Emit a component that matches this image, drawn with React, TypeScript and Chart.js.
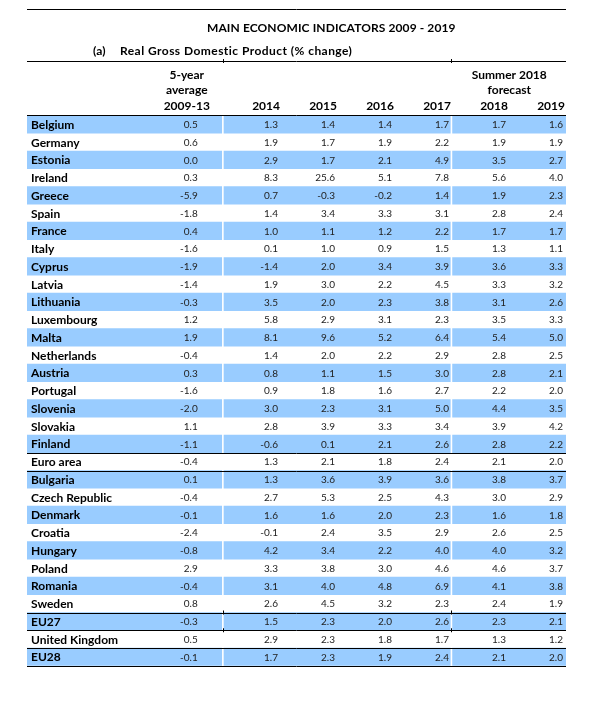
import React, { useEffect, useRef } from "react";
import { Chart, registerables } from "chart.js";

Chart.register(...registerables);

const TITLE = "MAIN ECONOMIC INDICATORS 2009 - 2019";
const SUBTITLE_TAG = "(a)";
const SUBTITLE = "Real Gross Domestic Product (% change)";

const countries = [
  "Belgium", "Germany", "Estonia", "Ireland", "Greece", "Spain", "France", "Italy",
  "Cyprus", "Latvia", "Lithuania", "Luxembourg", "Malta", "Netherlands", "Austria",
  "Portugal", "Slovenia", "Slovakia", "Finland", "Euro area", "Bulgaria",
  "Czech Republic", "Denmark", "Croatia", "Hungary", "Poland", "Romania", "Sweden",
  "EU27", "United Kingdom", "EU28",
];

const avg0913 = [0.5, 0.6, 0.0, 0.3, -5.9, -1.8, 0.4, -1.6, -1.9, -1.4, -0.3, 1.2, 1.9, -0.4, 0.3, -1.6, -2.0, 1.1, -1.1, -0.4, 0.1, -0.4, -0.1, -2.4, -0.8, 2.9, -0.4, 0.8, -0.3, 0.5, -0.1];
const y2014 = [1.3, 1.9, 2.9, 8.3, 0.7, 1.4, 1.0, 0.1, -1.4, 1.9, 3.5, 5.8, 8.1, 1.4, 0.8, 0.9, 3.0, 2.8, -0.6, 1.3, 1.3, 2.7, 1.6, -0.1, 4.2, 3.3, 3.1, 2.6, 1.5, 2.9, 1.7];
const y2015 = [1.4, 1.7, 1.7, 25.6, -0.3, 3.4, 1.1, 1.0, 2.0, 3.0, 2.0, 2.9, 9.6, 2.0, 1.1, 1.8, 2.3, 3.9, 0.1, 2.1, 3.6, 5.3, 1.6, 2.4, 3.4, 3.8, 4.0, 4.5, 2.3, 2.3, 2.3];
const y2016 = [1.4, 1.9, 2.1, 5.1, -0.2, 3.3, 1.2, 0.9, 3.4, 2.2, 2.3, 3.1, 5.2, 2.2, 1.5, 1.6, 3.1, 3.3, 2.1, 1.8, 3.9, 2.5, 2.0, 3.5, 2.2, 3.0, 4.8, 3.2, 2.0, 1.8, 1.9];
const y2017 = [1.7, 2.2, 4.9, 7.8, 1.4, 3.1, 2.2, 1.5, 3.9, 4.5, 3.8, 2.3, 6.4, 2.9, 3.0, 2.7, 5.0, 3.4, 2.6, 2.4, 3.6, 4.3, 2.3, 2.9, 4.0, 4.6, 6.9, 2.3, 2.6, 1.7, 2.4];
const y2018 = [1.7, 1.9, 3.5, 5.6, 1.9, 2.8, 1.7, 1.3, 3.6, 3.3, 3.1, 3.5, 5.4, 2.8, 2.8, 2.2, 4.4, 3.9, 2.8, 2.1, 3.8, 3.0, 1.6, 2.6, 4.0, 4.6, 4.1, 2.4, 2.3, 1.3, 2.1];
const y2019 = [1.6, 1.9, 2.7, 4.0, 2.3, 2.4, 1.7, 1.1, 3.3, 3.2, 2.6, 3.3, 5.0, 2.5, 2.1, 2.0, 3.5, 4.2, 2.2, 2.0, 3.7, 2.9, 1.8, 2.5, 3.2, 3.7, 3.8, 1.9, 2.1, 1.2, 2.0];

const yearHeaders = ["2014", "2015", "2016", "2017", "2018", "2019"];
const yearSeries = [y2014, y2015, y2016, y2017, y2018, y2019];
const avgHeader = ["5-year", "average", "2009-13"];
const forecastHeader = ["Summer 2018", "forecast"];

// boundaries (top of row index) where a rule is drawn
const ruleBoundaries = [19, 20, 28, 29, 30, 31];

// column grid in "year column" units
const XMIN = -3.456;
const XMAX = 6;
const AVG_RIGHT = -0.46;
const groupSpans: [number, number][] = [
  [XMIN, -0.04],
  [0, 3.97],
  [4.01, XMAX],
];

const BLUE = "#99CCFF";
const FONT = "Lato, 'DejaVu Sans', sans-serif";

const striped = (span: [number, number]) =>
  countries.map((_, i) => (i % 2 === 0 ? span : null));

const tablePlugin = {
  id: "tableText",
  afterDatasetsDraw(chart: any) {
    const { ctx, chartArea, scales } = chart;
    const x = scales.x;
    const y = scales.y;
    const half = (y.getPixelForValue(1) - y.getPixelForValue(0)) / 2;
    const top = (i: number) =>
      i < countries.length ? y.getPixelForValue(i) - half : y.getPixelForValue(countries.length - 1) + half;
    const L = chartArea.left;
    const R = chartArea.right;

    ctx.save();
    // titles
    ctx.fillStyle = "#000";
    ctx.textBaseline = "middle";
    ctx.font = `bold 12px ${FONT}`;
    ctx.textAlign = "left";
    try { (ctx as any).letterSpacing = "0.1px"; } catch (e) {}
    ctx.fillText(TITLE, 207, 28.5);
    ctx.fillText(SUBTITLE_TAG, 93, 51);
    try { (ctx as any).letterSpacing = "0.45px"; } catch (e) {}
    ctx.fillText(SUBTITLE, 120, 51);
    try { (ctx as any).letterSpacing = "0px"; } catch (e) {}

    // frame lines
    const hline = (yy: number) => {
      const py = Math.round(yy) + 0.5;
      ctx.beginPath();
      ctx.moveTo(L, py);
      ctx.lineTo(R, py);
      ctx.stroke();
    };
    ctx.strokeStyle = "#000";
    ctx.lineWidth = 1;
    hline(9);
    hline(61);
    hline(top(0) - 1);
    ruleBoundaries.forEach((b) => hline(top(b)));

    // small ticks at group gaps
    const gaps = [x.getPixelForValue(-0.02), x.getPixelForValue(3.99)];
    const tickAt = (yy: number) => {
      gaps.forEach((gx) => {
        ctx.beginPath();
        ctx.moveTo(Math.round(gx) + 0.5, yy - 2);
        ctx.lineTo(Math.round(gx) + 0.5, yy + 2);
        ctx.stroke();
      });
    };
    tickAt(61);
    tickAt(top(28));
    tickAt(top(29));

    // headers
    ctx.font = `bold 12px ${FONT}`;
    ctx.textAlign = "center";
    const avgCx = x.getPixelForValue(AVG_RIGHT) - 11;
    avgHeader.forEach((t, k) => ctx.fillText(t, avgCx, 75 + k * 15.5));
    const fcCx = (x.getPixelForValue(4.01) + x.getPixelForValue(XMAX)) / 2;
    forecastHeader.forEach((t, k) => ctx.fillText(t, fcCx, 75 + k * 15.5));
    ctx.textAlign = "right";
    yearHeaders.forEach((t, k) => {
      ctx.fillText(t, x.getPixelForValue(k + 1) - 1, 106);
    });

    // row labels and values
    countries.forEach((c, i) => {
      const cy = y.getPixelForValue(i) + 0.5;
      ctx.textAlign = "left";
      ctx.fillStyle = "#000";
      ctx.font = `bold 12px ${FONT}`;
      ctx.fillText(c, L + 4, cy);
      ctx.textAlign = "right";
      ctx.fillStyle = "#222";
      ctx.font = `10px ${FONT}`;
      ctx.fillText(avg0913[i].toFixed(1), x.getPixelForValue(AVG_RIGHT), cy);
      yearSeries.forEach((s, k) => {
        ctx.fillText(s[i].toFixed(1), x.getPixelForValue(k + 1) - 3, cy);
      });
    });
    ctx.restore();
  },
};

export default function App() {
  const ref = useRef<HTMLCanvasElement | null>(null);
  useEffect(() => {
    if (!ref.current) return;
    const chart = new Chart(ref.current, {
      type: "bar",
      data: {
        labels: countries,
        datasets: groupSpans.map((span, g) => ({
          label: `group${g}`,
          data: striped(span) as any,
          backgroundColor: BLUE,
          borderWidth: 0,
          barPercentage: 1,
          categoryPercentage: 1,
          grouped: false,
        })),
      },
      options: {
        indexAxis: "y",
        responsive: false,
        animation: false,
        layout: { padding: { left: 27, right: 30, top: 115.5, bottom: 39.25 } },
        plugins: { legend: { display: false }, title: { display: false }, tooltip: { enabled: false } },
        scales: {
          x: { type: "linear", min: XMIN, max: XMAX, display: false },
          y: { type: "category", display: false, offset: true },
        },
      },
      plugins: [tablePlugin],
    });
    return () => chart.destroy();
  }, []);
  return (
    <div style={{ position: "fixed", left: 0, top: 0, width: 596, height: 705, background: "#fff" }}>
      <canvas ref={ref} width={596} height={705} style={{ width: 596, height: 705 }} />
    </div>
  );
}
